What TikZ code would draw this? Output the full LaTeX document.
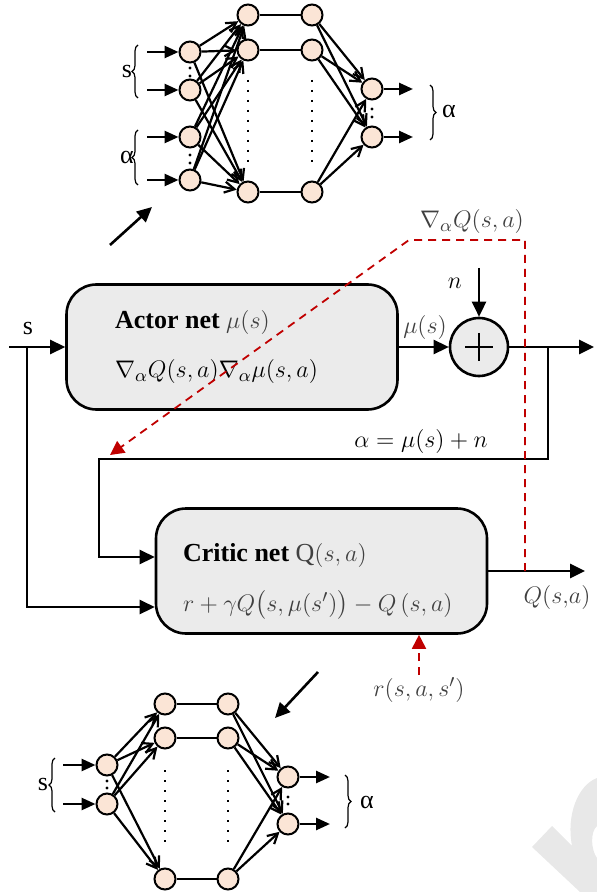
\documentclass[tikz,border=0pt]{standalone}
\usepackage{amsmath}
\usepackage{fontspec}
\setmainfont{Liberation Serif}
\usetikzlibrary{calc,arrows.meta,decorations.pathreplacing,positioning}
\definecolor{nfill}{HTML}{FBE5D6}
\definecolor{boxgray}{HTML}{EBEBEB}
\definecolor{dred}{HTML}{C00000}
\definecolor{mgray}{HTML}{404040}
\tikzset{
  neuron/.style={circle, draw, line width=1pt, fill=nfill, minimum size=10.5pt, inner sep=0pt},
  netbox/.style={draw, line width=1.3pt, fill=boxgray, rounded corners=15pt, minimum width=165.5pt, minimum height=62.5pt},
  flow/.style={line width=1.3pt, -{Triangle[length=7.5pt,width=7pt]}},
  wire/.style={line width=1.1pt, -{Straight Barb[length=5pt,width=5.5pt]}},
  feed/.style={line width=1.3pt, -{Triangle[length=7pt,width=6pt]}},
  grad/.style={dred, line width=0.9pt, dash pattern=on 4pt off 3pt, -{Triangle[length=7pt,width=7pt]}},
  vdots/.style={line width=1.3pt, dash pattern=on 1.2pt off 3.8pt},
  brc/.style={decorate, decoration={brace, amplitude=3pt}, line width=0.6pt},
}
\begin{document}
\begin{tikzpicture}[x=0.5pt, y=-0.5pt, font=\fontsize{13}{15}\selectfont]
        \useasboundingbox (0,0) rectangle (597,892);
        % watermark
        \path[fill=black!9](532,847)to(552,826)to(572,846).. controls (566,815) and (578,785) ..(597,778)to(597,826).. controls (590,832) and (591,850) ..(597,858)to(597,892)to(580,892)--cycle;
        % upper network
        \foreach \y [count=\i] in {52,90,137,180}
            \node[neuron](ui\i)at(190,\y){};
        \foreach \y [count=\i] in {15,50,192}
        {
            \node[neuron](uh\i)at(248,\y){};
            \node[neuron](ug\i)at(312,\y){};
            \path[draw, line width=1.1pt](uh\i)to(ug\i);
        }
        \foreach \y [count=\i] in {89,137}
            \node[neuron](uo\i)at(372,\y){};
        \foreach \i in {1,...,4}
            \foreach \j in {1,2,3}
                \path[draw, wire](ui\i)to(uh\j);
        \foreach \j in {1,2,3}
            \foreach \k in {1,2}
                \path[draw, wire](ug\j)to(uo\k);
        \foreach \i in {1,...,4}
        {
            \coordinate(uin\i)at($(ui\i)+(-43,0)$);
            \path[draw, feed](uin\i)to(ui\i);
        }
        \foreach \k in {1,2}
        {
            \coordinate(uout\k)at($(uo\k)+(41,0)$);
            \path[draw, feed](uo\k)to(uout\k);
        }
        \foreach \p in {(190,68),(190,76),(190,155),(190,163),(372,109),(372,117)}
            \fill \p circle (0.8pt);
        \path[draw, vdots](248,80)to(248,163);
        \path[draw, vdots](312,80)to(312,163);
        \path[draw, brc](138,98)to(138,45);
        \path[draw, brc](138,185)to(138,130);
        \path[draw, brc](430,85)to(430,140);
        \node(us)at(127,72){s};
        \node(ua)at(127,157){α};
        \node(uoa)at(449,112){α};
        \coordinate(up0)at(110,245);
        \coordinate(up1)at(152,207);
        \path[draw, flow](up0)to(up1);
        % actor
        \node[netbox](actor)at(232,347){};
        \node[anchor=west](actort1)at(108,323){\textbf{Actor net} \textcolor{mgray}{$\mu(s)$}};
        \node[anchor=west](actort2)at(108,372){$\nabla_{\alpha} Q(s,a)\nabla_{\alpha}\mu(s,a)$};
        \node[circle, draw, line width=1.3pt, fill=boxgray, minimum size=29pt, inner sep=0pt](sum)at(479,347){};
        \path[draw, line width=1.3pt](479,333)to(479,361)(465,347)to(493,347);
        \coordinate[label=above:{\textcolor{mgray}{$\mu(s)$}}](mu)at(425,347);
        \path[draw, flow](actor)to(sum);
        \coordinate(nin)at(479,268);
        \node(nlab)at(455,283){$n$};
        \path[draw, flow](nin)to(sum);
        \coordinate(aout)at(594,347);
        \path[draw, flow](sum)to(aout);
        % state input
        \coordinate(sin)at(9,347);
        \coordinate(sbr)at(27,347);
        \node(slab)at(28,329){s};
        \path[draw, flow](sin)to(actor);
        % critic
        \node[netbox](critic)at(321.5,571){};
        \node[anchor=west](critict1)at(176,555){\textbf{Critic net} \textcolor{mgray}{$\mathrm{Q}(s,a)$}};
        \node[anchor=west](critict2)at(176,605){\textcolor{mgray}{$r+\gamma Q\big(s,\mu(s')\big)-Q\,(s,a)$}};
        \path[draw, flow](sbr)|-($(critic.west)+(0,36)$);
        \coordinate(abr)at(548,347);
        \coordinate(al)at(99,459);
        \node(alab)at(421,441){$\alpha=\mu(s)+n$};
        \path[draw, flow](abr)|-(al)|-($(critic.west)+(0,-14)$);
        \coordinate(qout)at(585,571);
        \path[draw, flow](critic)to(qout);
        \node(qlab)at(557,597){\textcolor{mgray}{$Q(s{,}a)$}};
        % gradients
        \coordinate(gr)at(525,240);
        \coordinate(gl)at(409,240);
        \coordinate(gtip)at(110,455);
        \coordinate(qtap)at(gr|-critic.east);
        \node(glab)at(472,222){\textcolor{mgray}{$\nabla_{\alpha} Q(s,a)$}};
        \path[draw, grad](qtap)to(gr)to(gl)to(gtip);
        \coordinate(rin)at(419,675);
        \node(rlab)at(419,690){\textcolor{mgray}{$r(s,a,s')$}};
        \path[draw, grad](rin)to(rin|-critic.south);
        % lower network
        \coordinate(lp0)at(318,672);
        \coordinate(lp1)at(275,718);
        \path[draw, flow](lp0)to(lp1);
        \foreach \y [count=\i] in {765,804}
            \node[neuron](li\i)at(107,\y){};
        \foreach \y [count=\i] in {704,738,879}
        {
            \node[neuron](lh\i)at(165,\y){};
            \node[neuron](lg\i)at(228,\y){};
            \path[draw, line width=1.1pt](lh\i)to(lg\i);
        }
        \foreach \y [count=\i] in {777,824}
            \node[neuron](lo\i)at(288,\y){};
        \foreach \i in {1,2}
            \foreach \j in {1,2,3}
                \path[draw, wire](li\i)to(lh\j);
        \foreach \j in {1,2,3}
            \foreach \k in {1,2}
                \path[draw, wire](lg\j)to(lo\k);
        \foreach \i in {1,2}
        {
            \coordinate(lin\i)at($(li\i)+(-44,0)$);
            \path[draw, feed](lin\i)to(li\i);
        }
        \foreach \k in {1,2}
        {
            \coordinate(lout\k)at($(lo\k)+(42,0)$);
            \path[draw, feed](lo\k)to(lout\k);
        }
        \foreach \p in {(107,781),(107,788),(288,797),(288,804)}
            \fill \p circle (0.8pt);
        \path[draw, vdots](165,770)to(165,848);
        \path[draw, vdots](228,770)to(228,848);
        \path[draw, brc](55,812)to(55,758);
        \path[draw, brc](345,775)to(345,828);
        \node(ls)at(43,784){s};
        \node(loa)at(367,802){α};
\end{tikzpicture}
\end{document}
